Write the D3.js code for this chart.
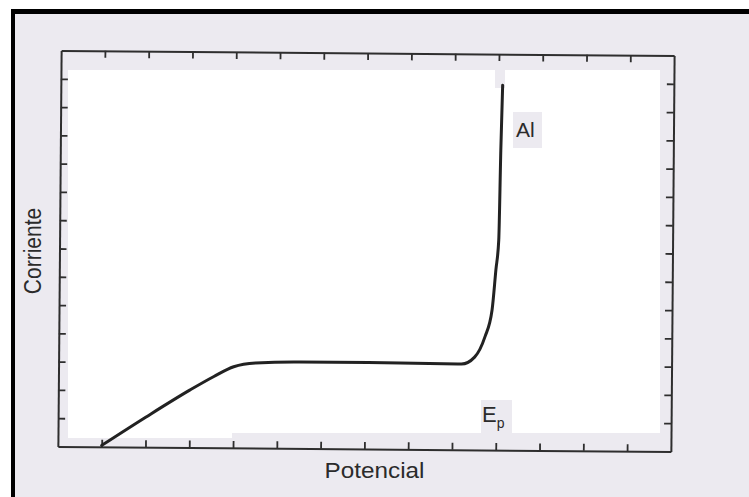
<!DOCTYPE html>
<html>
<head>
<meta charset="utf-8">
<script src="https://cdn.jsdelivr.net/npm/d3@7"></script>
<style>
  html, body { margin: 0; padding: 0; background: #fff; }
  svg { display: block; }
  text { font-family: "Liberation Sans", Arial, sans-serif; fill: #2b2b2b; }
</style>
</head>
<body>
<script>
// polarization curve (axis units = tick intervals)
var potential = [1.0, 2.0, 3.0, 3.55, 4.0, 4.5, 5.5, 7.8, 9.2, 9.5, 9.73, 9.89, 9.97, 10.03, 10.06, 10.09];
var current   = [0.05, 1.06, 2.03, 2.52, 2.87, 3.01, 3.06, 3.05, 3.03, 3.28, 3.99, 4.95, 6.37, 7.43, 10.6, 12.9];
var tickVals  = [1, 2, 3, 4, 5, 6, 7, 8, 9, 10, 11, 12, 13];
var xLabel = "Potencial", yLabel = "Corriente", curveLabel = "Al";

var svg = d3.select("body").append("svg").attr("width", 749).attr("height", 497);

// scanned page background
svg.append("rect").attr("x", 11).attr("y", 9).attr("width", 738).attr("height", 488).attr("fill", "#eceaf0");
svg.append("rect").attr("x", 11).attr("y", 9).attr("width", 4).attr("height", 488).attr("fill", "#000");
svg.append("rect").attr("x", 11).attr("y", 9).attr("width", 738).attr("height", 5).attr("fill", "#000");

// erased (white) inside of the plot
svg.append("rect").attr("x", 68).attr("y", 70).attr("width", 592).attr("height", 363).attr("fill", "#fff");
svg.append("rect").attr("x", 68).attr("y", 430).attr("width", 164).attr("height", 8).attr("fill", "#fff");
svg.append("rect").attr("x", 495).attr("y", 70).attr("width", 10).attr("height", 18).attr("fill", "#eceaf0");
svg.append("rect").attr("x", 513).attr("y", 112).attr("width", 29).attr("height", 36).attr("fill", "#eceaf0");
svg.append("rect").attr("x", 481).attr("y", 400).attr("width", 31).attr("height", 33).attr("fill", "#eceaf0");

var margin = {left: 59.5, top: 53},
    width = 613, height = 396;

var x = d3.scaleLinear().domain([0, 14]).range([0, width]),
    y = d3.scaleLinear().domain([0, 14]).range([height, 0]);

// scan is a little tilted
var g = svg.append("g")
    .attr("transform", "rotate(0.47,366,251) translate(" + margin.left + "," + margin.top + ")");

function styleAxis(sel) {
  sel.selectAll("text").remove();
  sel.select(".domain").attr("stroke", "#2e2e2e").attr("stroke-width", 2);
  sel.selectAll(".tick line").attr("stroke", "#2e2e2e").attr("stroke-width", 1.8);
}

g.append("g").attr("transform", "translate(0," + height + ")")
  .call(d3.axisBottom(x).tickValues(tickVals).tickSizeInner(-7).tickSizeOuter(0)).call(styleAxis);
g.append("g")
  .call(d3.axisTop(x).tickValues(tickVals).tickSizeInner(-7).tickSizeOuter(0)).call(styleAxis);
g.append("g")
  .call(d3.axisLeft(y).tickValues(tickVals).tickSizeInner(-7).tickSizeOuter(0)).call(styleAxis);
g.append("g").attr("transform", "translate(" + width + ",0)")
  .call(d3.axisRight(y).tickValues(tickVals).tickSizeInner(-7).tickSizeOuter(0)).call(styleAxis);

var pts = potential.map(function(p, i) { return [p, current[i]]; });

g.append("path")
  .datum(pts)
  .attr("fill", "none")
  .attr("stroke", "#222")
  .attr("stroke-width", 3)
  .attr("stroke-linecap", "round")
  .attr("d", d3.line()
    .x(function(d) { return x(d[0]); })
    .y(function(d) { return y(d[1]); })
    .curve(d3.curveMonotoneX));

// labels
svg.append("text")
  .attr("transform", "translate(374.5,478) scale(1.13,1)")
  .attr("text-anchor", "middle")
  .style("font-size", "21.5px")
  .text(xLabel);

svg.append("text")
  .attr("transform", "translate(41,251) scale(1.13,1) rotate(-90)")
  .attr("text-anchor", "middle")
  .style("font-size", "21px")
  .text(yLabel);

svg.append("text")
  .attr("x", 516).attr("y", 137)
  .style("font-size", "21px")
  .text(curveLabel);

var ep = svg.append("text").attr("x", 482).attr("y", 422).style("font-size", "22px");
ep.append("tspan").text("E");
ep.append("tspan").attr("dy", 6).style("font-size", "14px").text("p");
</script>
</body>
</html>
